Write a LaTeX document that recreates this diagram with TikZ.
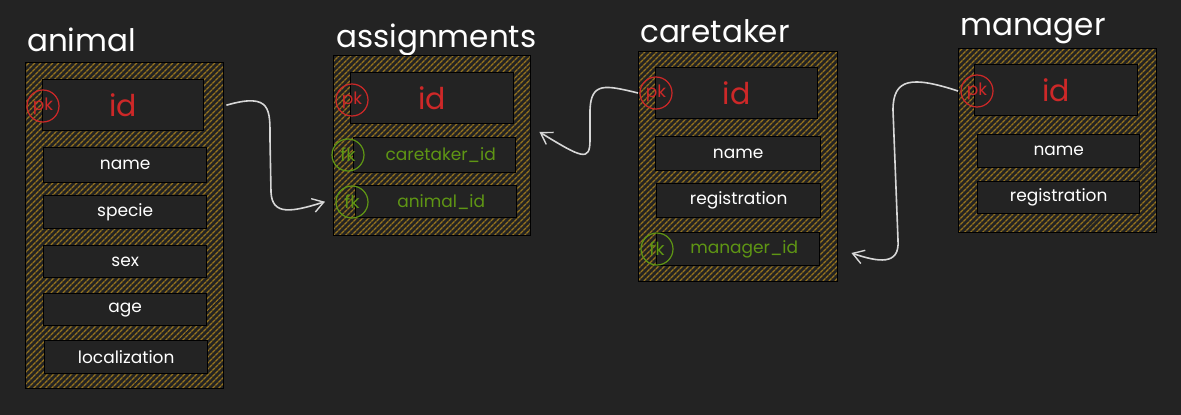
\documentclass[tikz,border=0pt]{standalone}
\usepackage{fontspec}
\setmainfont{Poppins}
\usetikzlibrary{patterns.meta,arrows.meta}
\definecolor{bg}{RGB}{35,35,35}
\definecolor{hatch}{RGB}{150,115,30}
\definecolor{pkred}{RGB}{205,40,40}
\definecolor{fkgreen}{RGB}{95,150,20}
\definecolor{arrowc}{RGB}{215,215,215}
\begin{document}
\begin{tikzpicture}[x=1pt,y=-1pt,
  tbl/.style={draw=black,line width=1.4pt,preaction={fill=bg},
    pattern={Lines[angle=45,distance=4pt,line width=1.4pt]},pattern color=hatch,
    anchor=north west,inner sep=0pt},
  fld/.style={draw=black,line width=1.4pt,fill=bg,anchor=north west,inner sep=0pt,
    text=white,font=\fontsize{17}{20}\selectfont},
  idtxt/.style={text=pkred,font=\fontsize{30}{32}\selectfont},
  fktxt/.style={text=fkgreen,font=\fontsize{17}{20}\selectfont},
  ttl/.style={anchor=base west,text=white,inner sep=0pt,font=\fontsize{31}{34}\selectfont},
  pk/.style={circle,draw=pkred,line width=1.2pt,minimum size=32pt,inner sep=0pt,
    text=pkred,font=\fontsize{17}{19}\selectfont},
  fk/.style={circle,draw=fkgreen,line width=1.2pt,minimum size=32pt,inner sep=0pt,
    text=fkgreen,font=\fontsize{18}{20}\selectfont},
  rel/.style={draw=arrowc,line width=1.6pt,
    -{Straight Barb[length=11pt,width=14pt,line width=1.4pt]}}]
\useasboundingbox[fill=bg] (0,0) rectangle (1181,415);

% ---------- animal ----------
\node[ttl] (animal-t) at (27,51) {animal};
\node[tbl,minimum width=198pt,minimum height=326pt] (animal) at (25,62) {};
\node[fld,minimum width=161pt,minimum height=51pt,idtxt] (animal-id) at (42,79) {id};
\node[fld,minimum width=163pt,minimum height=35pt] (animal-name) at (43,147) {name};
\node[fld,minimum width=163pt,minimum height=33pt] (animal-specie) at (43,195) {specie};
\node[fld,minimum width=163pt,minimum height=32pt] (animal-sex) at (43,245) {sex};
\node[fld,minimum width=163pt,minimum height=32pt] (animal-age) at (43,293) {age};
\node[fld,minimum width=163pt,minimum height=33pt] (animal-loc) at (44,340) {localization};
\node[pk] (animal-pk) at (43,106) {pk};

% ---------- assignments ----------
\node[ttl] (asg-t) at (336,47) {assignments};
\node[tbl,minimum width=197pt,minimum height=180pt] (asg) at (333,55) {};
\node[fld,minimum width=163pt,minimum height=51pt,idtxt] (asg-id) at (350,72) {id};
\node[fld,minimum width=162pt,minimum height=35pt,fktxt] (asg-ct) at (353,137) {\hspace*{12pt}caretaker\_id};
\node[fld,minimum width=161pt,minimum height=32pt,fktxt] (asg-an) at (355,185) {\hspace*{10pt}animal\_id};
\node[pk] (asg-pk) at (352,100) {pk};
\node[fk] (asg-ctfk) at (348,155) {fk};
\node[fk] (asg-anfk) at (352,202) {fk};

% ---------- caretaker ----------
\node[ttl] (ct-t) at (640,42) {caretaker};
\node[tbl,minimum width=199pt,minimum height=230pt] (ct) at (638,51) {};
\node[fld,minimum width=162pt,minimum height=51pt,idtxt] (ct-id) at (655,67) {id};
\node[fld,minimum width=165pt,minimum height=34pt] (ct-name) at (655,136) {name};
\node[fld,minimum width=164pt,minimum height=34pt] (ct-reg) at (656,183) {registration};
\node[fld,minimum width=163pt,minimum height=33pt,fktxt] (ct-mg) at (656,232) {\hspace*{12pt}manager\_id};
\node[pk] (ct-pk) at (656,93) {pk};
\node[fk] (ct-mgfk) at (657,249) {fk};

% ---------- manager ----------
\node[ttl] (mg-t) at (960,35) {manager};
\node[tbl,minimum width=198pt,minimum height=184pt] (mg) at (958,48) {};
\node[fld,minimum width=163pt,minimum height=51pt,idtxt] (mg-id) at (974,64) {id};
\node[fld,minimum width=162pt,minimum height=33pt] (mg-name) at (977,134) {name};
\node[fld,minimum width=162pt,minimum height=32pt] (mg-reg) at (977,181) {registration};
\node[pk] (mg-pk) at (977,91) {pk};

% ---------- relations ----------
\coordinate (a1e) at ([xshift=-8pt]asg.west |- asg-an.west);
\coordinate (a2e) at ([xshift=8pt]asg.east |- 0,132);
\coordinate (a3e) at ([xshift=13pt]ct.east |- 0,253);

\draw[rel] ([xshift=2pt]animal.east |- animal-id.east)
  .. controls (272,92) and (270,110) .. (270,140)
  -- (271,192)
  .. controls (272,216) and (292,212) .. (a1e);

\draw[rel] (ct.west |- ct-pk)
  .. controls (605,85) and (591,82) .. (590,110)
  -- (590,140)
  .. controls (590,162) and (582,158) .. (a2e);

\draw[rel] (mg.west |- mg-pk)
  .. controls (912,76) and (893,78) .. (893,110)
  -- (898,240)
  .. controls (900,266) and (878,262) .. (a3e);
\end{tikzpicture}
\end{document}
